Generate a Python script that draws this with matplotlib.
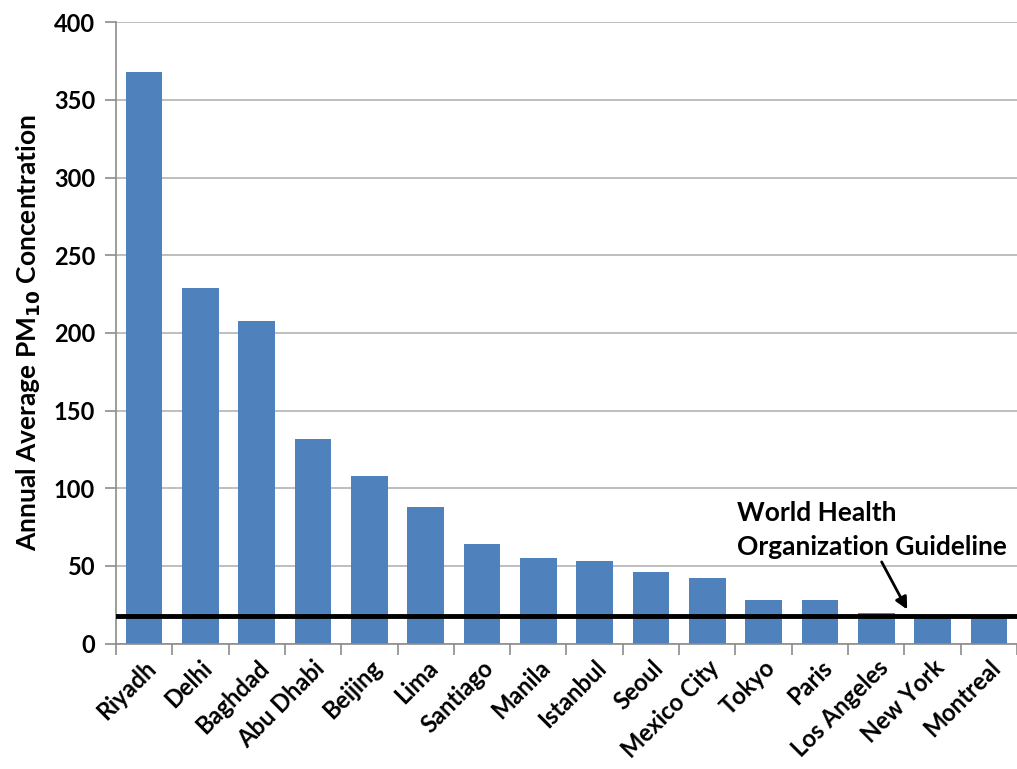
import matplotlib
matplotlib.use("Agg")
import matplotlib.pyplot as plt
import numpy as np

cities = ["Riyadh", "Delhi", "Baghdad", "Abu Dhabi", "Beijing", "Lima", "Santiago",
          "Manila", "Istanbul", "Seoul", "Mexico City", "Tokyo", "Paris",
          "Los Angeles", "New York", "Montreal"]
pm10 = [368, 229, 208, 132, 108, 88, 64, 55, 53, 46, 42, 28, 28, 20, 17, 17]
who_guideline = 18
y_ticks = [0, 50, 100, 150, 200, 250, 300, 350, 400]

plt.rcParams['font.family'] = ['Lato', 'DejaVu Sans']
plt.rcParams['font.weight'] = 'bold'

fig = plt.figure(figsize=(10.17, 7.69), dpi=100)
ax = fig.add_axes([0.114, 0.163, 0.886, 0.808])

x = np.arange(len(cities))
ax.bar(x, pm10, width=0.65, color="#4F81BD", zorder=2)
ax.axhline(who_guideline, color="black", lw=3.5, zorder=3)

ax.set_xlim(-0.5, len(cities) - 0.5)
ax.set_ylim(0, 400)
ax.set_yticks(y_ticks)
ax.set_yticklabels([str(v) for v in y_ticks], fontsize=17, fontweight='bold')
ax.yaxis.grid(True, color="#BEBEBE", lw=1.4, zorder=0)
ax.set_axisbelow(True)

# category ticks sit between bars
ax.set_xticks(np.arange(-0.5, len(cities) + 0.5, 1.0), minor=False)
ax.set_xticklabels([])
ax.set_xticks(x, minor=True)
ax.set_xticklabels(cities, minor=True, rotation=45, ha='right',
                   rotation_mode='anchor', fontsize=17, fontweight='bold')
ax.tick_params(axis='x', which='minor', length=0, pad=9)
ax.tick_params(axis='x', which='major', length=8, color="#8C8C8C", width=1.2)
ax.tick_params(axis='y', length=8, color="#8C8C8C", width=1.2, pad=7)

for s in ["top", "right"]:
    ax.spines[s].set_visible(False)
for s in ["left", "bottom"]:
    ax.spines[s].set_color("#8C8C8C")
    ax.spines[s].set_linewidth(1.2)

ax.set_ylabel("Annual Average PM$_{\\mathbf{10}}$ Concentration", fontsize=19,
              fontweight='bold', labelpad=8)

ax.annotate("World Health\nOrganization Guideline", xy=(13.55, 22), xytext=(10.53, 57),
            fontsize=19, fontweight='bold', ha='left', va='baseline',
            linespacing=1.5,
            arrowprops=dict(arrowstyle='-|>', color='black', lw=2,
                            mutation_scale=18, shrinkA=0, shrinkB=0,
                            relpos=(0.53, 0.0)))

fig.savefig("out.png", dpi=100)
